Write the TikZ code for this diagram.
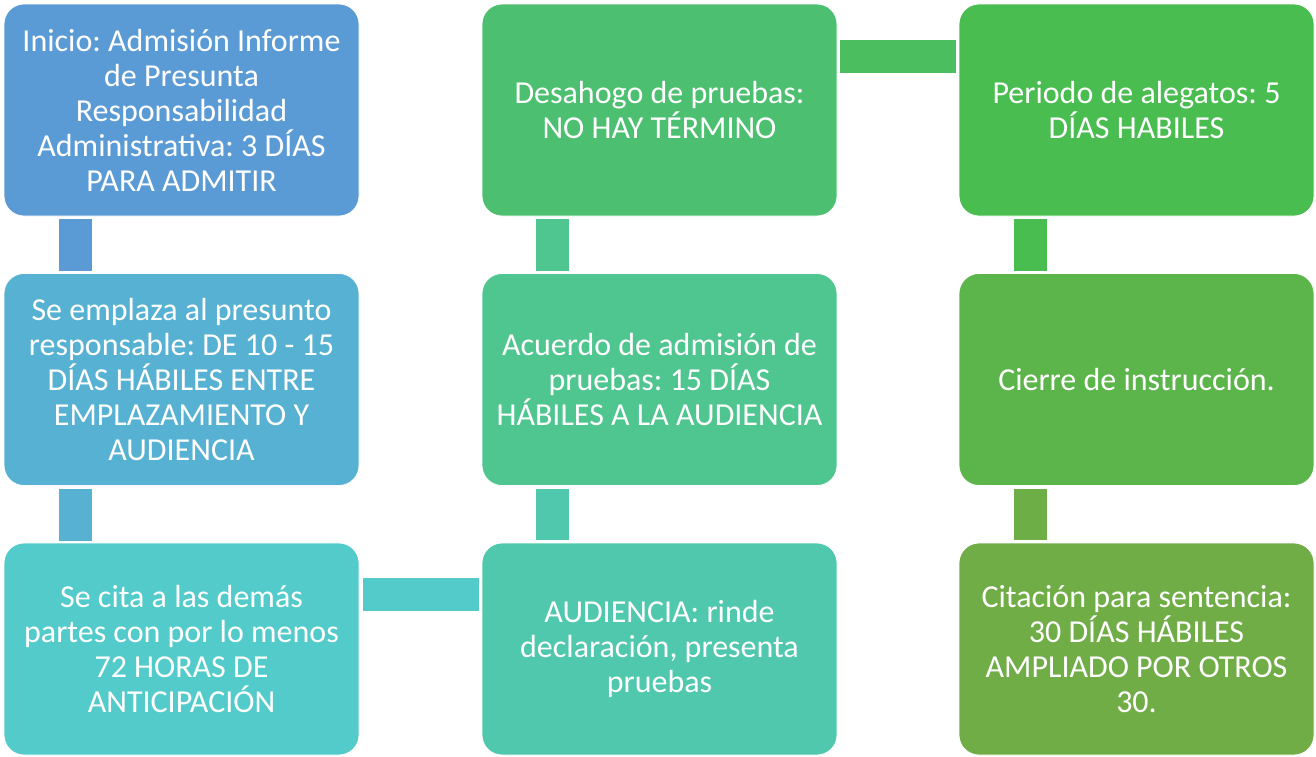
\documentclass[tikz,border=0pt]{standalone}
\usepackage{fontspec}
\setmainfont{Carlito}
\usetikzlibrary{calc}
\frenchspacing
\definecolor{c1}{HTML}{5B9BD5}
\definecolor{c2}{HTML}{57B1D2}
\definecolor{c3}{HTML}{53CBCB}
\definecolor{c4}{HTML}{4FC8AD}
\definecolor{c5}{HTML}{4FC58F}
\definecolor{c6}{HTML}{4CC070}
\definecolor{c7}{HTML}{4ABD50}
\definecolor{c8}{HTML}{5CB54A}
\definecolor{c9}{HTML}{70AD47}
\tikzset{
  stepbox/.style={rectangle, rounded corners=20pt, minimum width=355pt, minimum height=212pt,
    inner sep=0pt, text=white, align=center, draw=white, line width=0.8pt,
    font=\fontsize{32pt}{35pt}\selectfont},
  bar/.style={line width=33pt}
}
\begin{document}
\begin{tikzpicture}[x=1pt,y=-1pt]
\useasboundingbox (0,0) rectangle (1316,756);
\node[stepbox, fill=c1] (b1) at (181.5,110) {Inicio: Admisión Informe\\de Presunta\\Responsabilidad\\Administrativa: 3 DÍAS\\PARA ADMITIR};
\node[stepbox, fill=c2] (b2) at (181.5,379.5) {Se emplaza al presunto\\responsable: DE 10 - 15\\DÍAS HÁBILES ENTRE\\EMPLAZAMIENTO Y\\AUDIENCIA};
\node[stepbox, fill=c3] (b3) at (181.5,649) {Se cita a las demás\\partes con por lo menos\\72 HORAS DE\\ANTICIPACIÓN};
\node[stepbox, fill=c4] (b4) at (659.5,649) {AUDIENCIA: rinde\\declaración, presenta\\pruebas};
\node[stepbox, fill=c5] (b5) at (659.5,379.5) {Acuerdo de admisión de\\pruebas: 15 DÍAS\\HÁBILES A LA AUDIENCIA};
\node[stepbox, fill=c6] (b6) at (659.5,110) {Desahogo de pruebas:\\NO HAY TÉRMINO};
\node[stepbox, fill=c7] (b7) at (1136.5,110) {Periodo de alegatos: 5\\DÍAS HABILES};
\node[stepbox, fill=c8] (b8) at (1136.5,379.5) {Cierre de instrucción.};
\node[stepbox, fill=c9] (b9) at (1136.5,649) {Citación para sentencia:\\30 DÍAS HÁBILES\\AMPLIADO POR OTROS\\30.};
% connectors
\draw[bar, c1] ($(b1.south west)+(71.5,3)$) -- ($(b2.north west)+(71.5,-2)$);
\draw[bar, c2] ($(b2.south west)+(71.5,3)$) -- ($(b3.north west)+(71.5,-2)$);
\draw[bar, c3] ($(b3.north east)+(4,51.5)$) -- ($(b4.north west)+(-3,51.5)$);
\draw[bar, c4] ($(b4.north west)+(70.5,-3)$) -- ($(b5.south west)+(70.5,3)$);
\draw[bar, c5] ($(b5.north west)+(70.5,-2)$) -- ($(b6.south west)+(70.5,3)$);
\draw[bar, c6!50!c7] ($(b6.north east)+(3,52.5)$) -- ($(b7.north west)+(-3,52.5)$);
\draw[bar, c7] ($(b7.south west)+(71.5,3)$) -- ($(b8.north west)+(71.5,-2)$);
\draw[bar, c9!85!c8] ($(b8.south west)+(71.5,3)$) -- ($(b9.north west)+(71.5,-3)$);
\end{tikzpicture}
\end{document}
